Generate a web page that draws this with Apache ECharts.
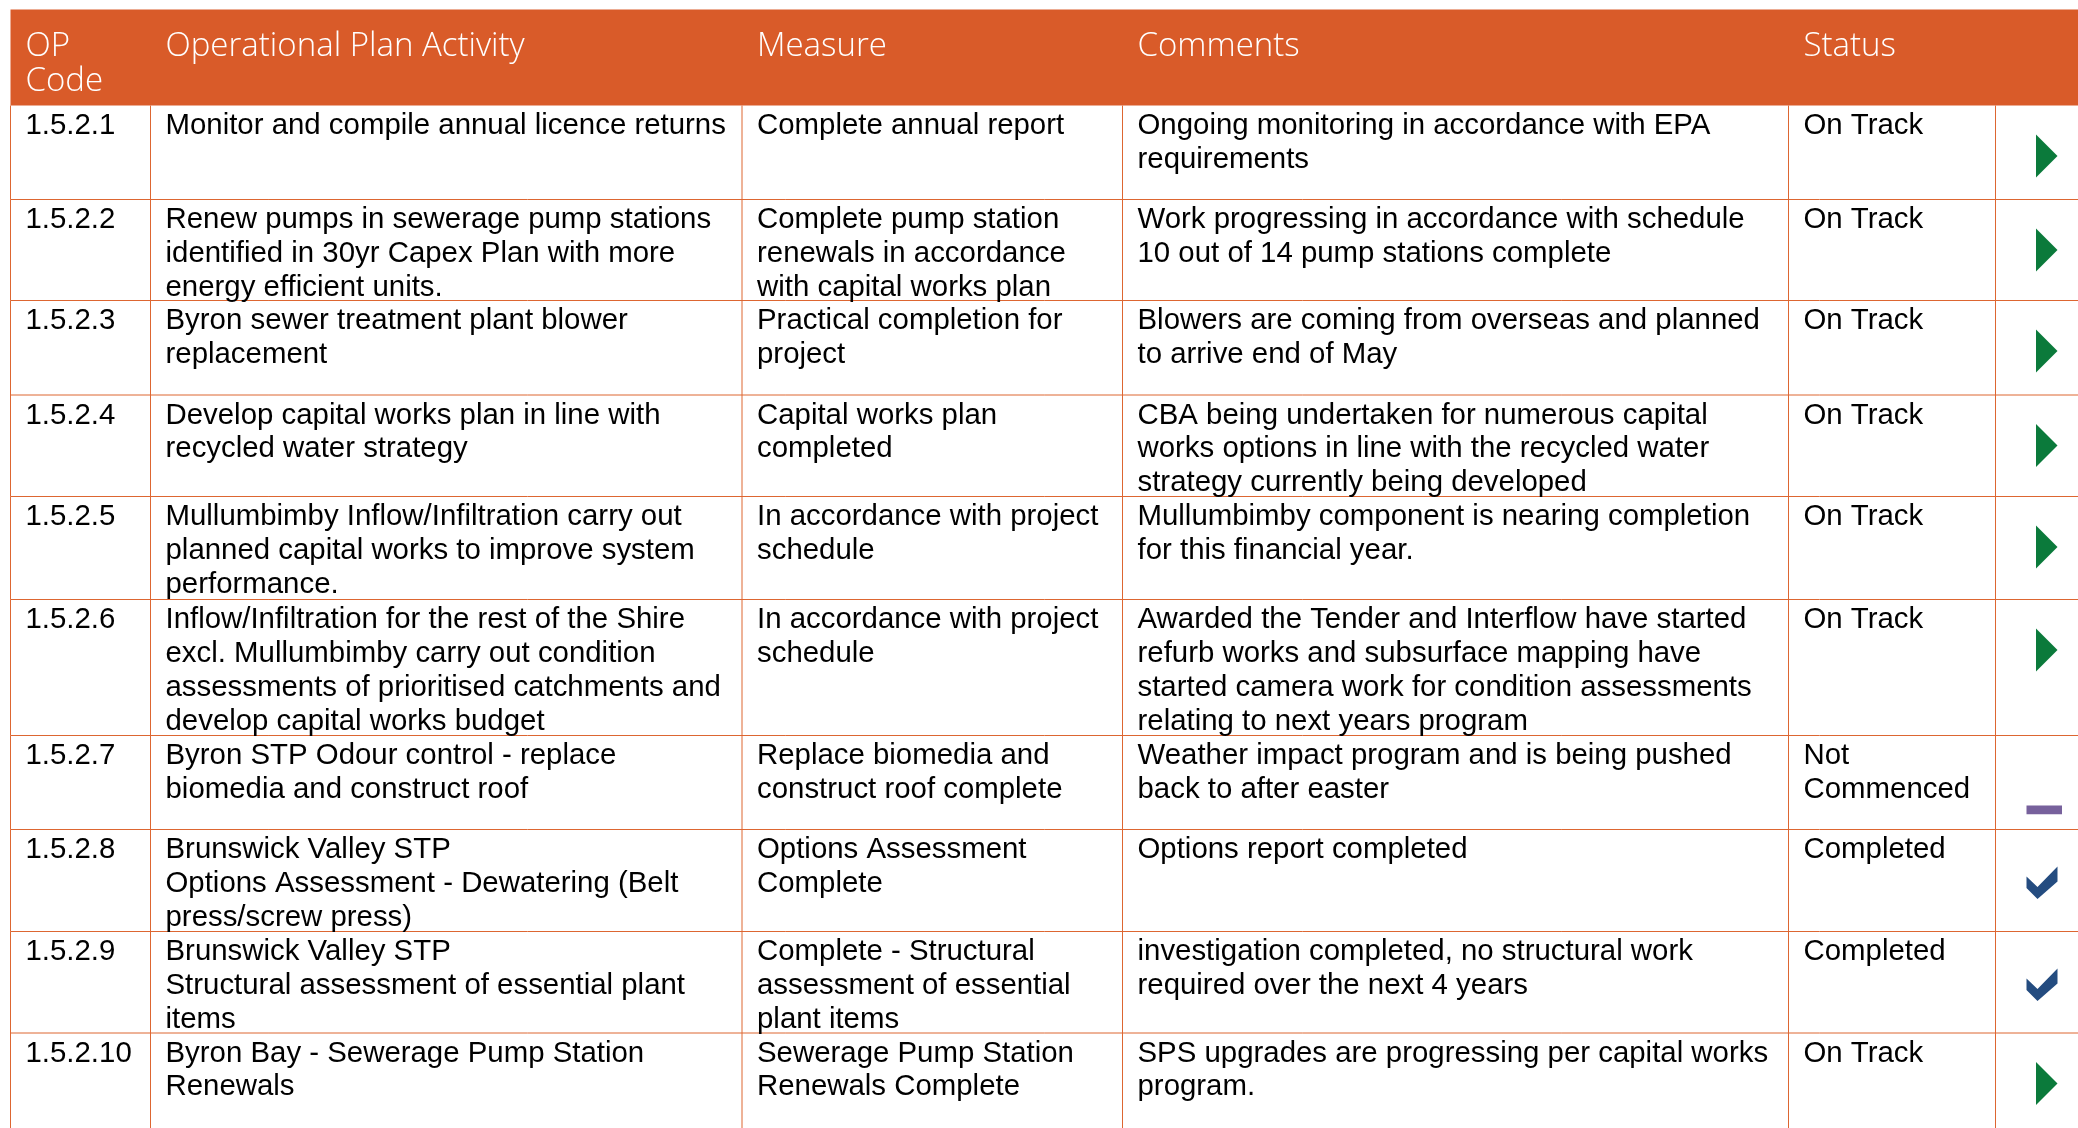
<!DOCTYPE html>
<html>
<head>
<meta charset="utf-8">
<script src="https://cdn.jsdelivr.net/npm/echarts@6/dist/echarts.min.js"></script>
<style>
html,body{margin:0;padding:0;background:#fff;}
#main{width:2078px;height:1128px;}
</style>
</head>
<body>
<div id="main"></div>
<script>
// ---------- DATA ----------
const headers = ['OP\nCode', 'Operational Plan Activity', 'Measure', 'Comments', 'Status'];
const codes = ['1.5.2.1','1.5.2.2','1.5.2.3','1.5.2.4','1.5.2.5','1.5.2.6','1.5.2.7','1.5.2.8','1.5.2.9','1.5.2.10'];
const activities = [
  'Monitor and compile annual licence returns',
  'Renew pumps in sewerage pump stations\nidentified in 30yr Capex Plan with more\nenergy efficient units.',
  'Byron sewer treatment plant blower\nreplacement',
  'Develop capital works plan in line with\nrecycled water strategy',
  'Mullumbimby Inflow/Infiltration carry out\nplanned capital works to improve system\nperformance.',
  'Inflow/Infiltration for the rest of the Shire\nexcl. Mullumbimby carry out condition\nassessments of prioritised catchments and\ndevelop capital works budget',
  'Byron STP Odour control - replace\nbiomedia and construct roof',
  'Brunswick Valley STP\nOptions Assessment - Dewatering (Belt\npress/screw press)',
  'Brunswick Valley STP\nStructural assessment of essential plant\nitems',
  'Byron Bay - Sewerage Pump Station\nRenewals'
];
const measures = [
  'Complete annual report',
  'Complete pump station\nrenewals in accordance\nwith capital works plan',
  'Practical completion for\nproject',
  'Capital works plan\ncompleted',
  'In accordance with project\nschedule',
  'In accordance with project\nschedule',
  'Replace biomedia and\nconstruct roof complete',
  'Options Assessment\nComplete',
  'Complete - Structural\nassessment of essential\nplant items',
  'Sewerage Pump Station\nRenewals Complete'
];
const comments = [
  'Ongoing monitoring in accordance with EPA\nrequirements',
  'Work progressing in accordance with schedule\n10 out of 14 pump stations complete',
  'Blowers are coming from overseas and planned\nto arrive end of May',
  'CBA being undertaken for numerous capital\nworks options in line with the recycled water\nstrategy currently being developed',
  'Mullumbimby component is nearing completion\nfor this financial year.',
  'Awarded the Tender and Interflow have started\nrefurb works and subsurface mapping have\nstarted camera work for condition assessments\nrelating to next years program',
  'Weather impact program and is being pushed\nback to after easter',
  'Options report completed',
  'investigation completed, no structural work\nrequired over the next 4 years',
  'SPS upgrades are progressing per capital works\nprogram.'
];
const statuses = ['On Track','On Track','On Track','On Track','On Track','On Track','Not\nCommenced','Completed','Completed','On Track'];

// ---------- LAYOUT (positions & styles) ----------
const COL_EDGES = [10.5, 150.5, 742, 1122.5, 1788.5, 1995.5];
const ROW_EDGES = [105.5, 199.5, 300.5, 395, 496.5, 599.5, 735.5, 829.5, 931.5, 1033, 1140];
const HEADER_TOP = 9.5;
const TABLE_RIGHT = 2078;
const PAD_X = 15;
const HEADER_BG = '#D95B29';
const LINE_COLOR = '#DD6631';
const BODY_FONT = '"Liberation Sans", Arial, sans-serif';
const HEAD_FONT = '"Open Sans", sans-serif';
const BODY_SIZE = 29.4, BODY_LH = 33.9;
const HEAD_SIZE = 33, HEAD_LH = 35.5;
const ICON_COLORS = { track: '#0B7A3B', done: '#244C80', none: '#77619C' };

function iconKind(s) {
  if (s === 'Completed') return 'done';
  if (s.indexOf('Not') === 0) return 'none';
  return 'track';
}

const chart = echarts.init(document.getElementById('main'), null, { renderer: 'canvas' });

function renderHeader(params, api) {
  const tl = api.coord([COL_EDGES[0], HEADER_TOP]);
  const br = api.coord([TABLE_RIGHT, ROW_EDGES[0]]);
  const children = [{
    type: 'rect',
    shape: { x: tl[0], y: tl[1], width: br[0] - tl[0], height: br[1] - tl[1] },
    style: { fill: HEADER_BG }
  }];
  headers.forEach((h, c) => {
    const p = api.coord([COL_EDGES[c] + PAD_X, HEADER_TOP + 19]);
    children.push({
      type: 'text',
      style: {
        text: h, x: p[0], y: p[1], fill: '#ffffff',
        fontFamily: HEAD_FONT, fontWeight: 300, fontSize: HEAD_SIZE,
        lineHeight: HEAD_LH, align: 'left', verticalAlign: 'top'
      }
    });
  });
  return { type: 'group', children };
}

function renderRow(params, api) {
  const i = api.value(0);
  const top = ROW_EDGES[i], bottom = ROW_EDGES[i + 1];
  const children = [];
  const a = api.coord([COL_EDGES[0], bottom]);
  const b = api.coord([TABLE_RIGHT, bottom]);
  children.push({ type: 'line', shape: { x1: a[0], y1: a[1], x2: b[0], y2: b[1] },
    style: { stroke: LINE_COLOR, lineWidth: 1 } });
  COL_EDGES.forEach(x => {
    const p1 = api.coord([x, top]), p2 = api.coord([x, bottom]);
    children.push({ type: 'line', shape: { x1: p1[0], y1: p1[1], x2: p2[0], y2: p2[1] },
      style: { stroke: LINE_COLOR, lineWidth: 1 } });
  });
  const cells = [codes[i], activities[i], measures[i], comments[i], statuses[i]];
  cells.forEach((t, c) => {
    const p = api.coord([COL_EDGES[c] + PAD_X, top + 3.5]);
    children.push({
      type: 'text',
      style: {
        text: t, x: p[0], y: p[1], fill: '#000000',
        fontFamily: BODY_FONT, fontSize: BODY_SIZE, lineHeight: BODY_LH,
        align: 'left', verticalAlign: 'top'
      }
    });
  });
  const kind = iconKind(statuses[i]);
  if (kind === 'track') {
    const o = api.coord([2036, top + 29]);
    children.push({ type: 'polygon',
      shape: { points: [[o[0], o[1]], [o[0] + 21.5, o[1] + 21.5], [o[0], o[1] + 43]] },
      style: { fill: ICON_COLORS.track } });
  } else if (kind === 'done') {
    const o = api.coord([2026.5, top + 37]);
    const pts = [[0, 10], [11, 20.5], [31, 0], [31, 15], [11, 32.5], [0, 21.5]];
    children.push({ type: 'polygon',
      shape: { points: pts.map(q => [o[0] + q[0], o[1] + q[1]]) },
      style: { fill: ICON_COLORS.done } });
  } else {
    const o = api.coord([2026.5, top + 70]);
    children.push({ type: 'rect', shape: { x: o[0], y: o[1], width: 35.5, height: 8.7 },
      style: { fill: ICON_COLORS.none } });
  }
  return { type: 'group', children };
}

chart.setOption({
  animation: false,
  backgroundColor: '#ffffff',
  grid: { left: 0, right: 0, top: 0, bottom: 0 },
  xAxis: { type: 'value', min: 0, max: 2078, show: false },
  yAxis: { type: 'value', min: 0, max: 1128, inverse: true, show: false },
  series: [
    { type: 'custom', coordinateSystem: 'cartesian2d', clip: false, silent: true,
      data: [[0, 0]], renderItem: renderHeader },
    { type: 'custom', coordinateSystem: 'cartesian2d', clip: false, silent: true,
      data: codes.map((c, i) => [i, 0]), renderItem: renderRow }
  ]
});
</script>
</body>
</html>
